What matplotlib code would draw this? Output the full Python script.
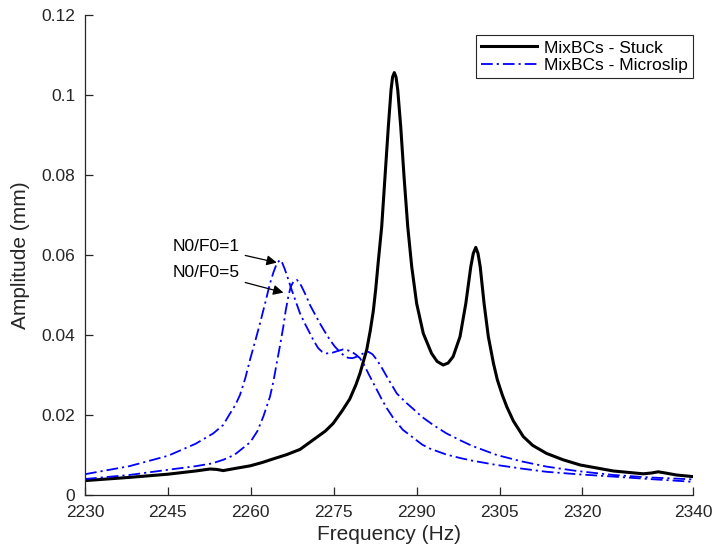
import matplotlib
matplotlib.use("Agg")
import matplotlib.pyplot as plt

plt.rcParams['font.family'] = ['Liberation Sans', 'DejaVu Sans']

# Data
freq_stuck = [2230, 2238, 2245, 2250, 2252.6, 2253.8, 2255.0, 2257, 2259.9, 2262, 2264, 2266.5,
              2268.9, 2271.5, 2273.5, 2274.9, 2276.5, 2277.9, 2279.0, 2279.75, 2280.97, 2281.6,
              2282.16, 2282.6, 2283.07, 2283.68, 2284.28, 2284.88, 2285.37, 2285.65, 2285.96,
              2286.27, 2286.58, 2287.12, 2287.72, 2288.39, 2289.11, 2290.0, 2291.2, 2292.7,
              2293.7, 2294.8, 2295.7, 2296.6, 2297.85, 2298.9, 2299.8, 2300.25, 2300.7, 2301.1,
              2301.5, 2302.2, 2302.97, 2303.9, 2304.6, 2305.5, 2306.3, 2307.5, 2309.3, 2311.0,
              2313.5, 2316.5, 2319.6, 2325.6, 2331.0, 2332.5, 2333.7, 2335.0, 2337.0, 2340]
amp_stuck = [0.0036, 0.0044, 0.0052, 0.0060, 0.0065, 0.0064, 0.0061, 0.0066, 0.0073, 0.0081, 0.0090, 0.0101,
             0.0114, 0.0140, 0.0160, 0.0179, 0.0210, 0.0240, 0.0275, 0.0304, 0.0363, 0.0410,
             0.0460, 0.0515, 0.0585, 0.0671, 0.0796, 0.0921, 0.1013, 0.1045, 0.1056,
             0.1045, 0.1013, 0.0921, 0.0796, 0.0671, 0.0571, 0.0479, 0.0404, 0.0354,
             0.0334, 0.0325, 0.0330, 0.0346, 0.0396, 0.0479, 0.0571, 0.0604, 0.0619, 0.0604,
             0.0571, 0.0479, 0.0396, 0.0329, 0.0288, 0.0250, 0.0221, 0.0185, 0.0146, 0.0124,
             0.0104, 0.0088, 0.0075, 0.0060, 0.0053, 0.0055, 0.0058, 0.0055, 0.0050, 0.0046]

freq_ms1 = [2230, 2238, 2245, 2250, 2253.2, 2255, 2256.2, 2257.2, 2258.04, 2259.0, 2259.85, 2260.8,
            2261.66, 2262.6, 2263.47, 2264.1, 2264.68, 2265.28, 2265.7, 2266.19, 2266.8, 2267.39,
            2268.9, 2269.8, 2270.7, 2271.4, 2272.2, 2272.9, 2273.7, 2274.6, 2275.5, 2276.7,
            2277.5, 2278.25, 2279.0, 2279.75, 2280.5, 2281.26, 2282.0, 2282.8, 2283.7, 2284.6,
            2285.8, 2287.5, 2289.4, 2291.0, 2292.4, 2295.4, 2298.0, 2300.0, 2304.5, 2309.0,
            2313.5, 2319.0, 2325.6, 2332.0, 2340]
amp_ms1 = [0.0052, 0.0072, 0.0098, 0.0128, 0.0154, 0.0175, 0.0203, 0.0225, 0.0250, 0.0292, 0.0338, 0.0385,
           0.0429, 0.0480, 0.0529, 0.0557, 0.0578, 0.0588, 0.0580, 0.0563, 0.0538, 0.0513,
           0.0454, 0.0428, 0.0404, 0.0385, 0.0367, 0.0358, 0.0354, 0.0355, 0.0359, 0.0364,
           0.0362, 0.0358, 0.0351, 0.0342, 0.0325, 0.0304, 0.0284, 0.0263, 0.0239, 0.0217,
           0.0192, 0.0163, 0.0143, 0.0126, 0.0116, 0.0101, 0.0092, 0.0086, 0.0075, 0.0066,
           0.0058, 0.0052, 0.0046, 0.0040, 0.0033]

freq_ms5 = [2230, 2238, 2245, 2250, 2253, 2255, 2257, 2259.9, 2261.2, 2262.26, 2263.47, 2264.1,
            2264.68, 2265.3, 2265.88, 2266.3, 2266.78, 2267.2, 2267.69, 2268.3, 2268.7, 2269.2,
            2270.0, 2270.7, 2271.6, 2272.5, 2273.4, 2274.3, 2275.2, 2276.1, 2276.9, 2277.6,
            2278.4, 2279.2, 2280.2, 2281.26, 2282.0, 2282.8, 2283.7, 2284.6, 2285.5, 2286.4,
            2288.0, 2289.4, 2291.0, 2293.0, 2295.4, 2298.0, 2300.0, 2304.5, 2309.0, 2313.5,
            2319.0, 2325.6, 2332.0, 2340]
amp_ms5 = [0.0040, 0.0050, 0.0063, 0.0072, 0.0079, 0.0088, 0.0100, 0.0132, 0.0160, 0.0196, 0.0246, 0.0285,
           0.0329, 0.0375, 0.0421, 0.0460, 0.0496, 0.0520, 0.0533, 0.0538, 0.0533, 0.0521,
           0.0498, 0.0475, 0.0452, 0.0429, 0.0408, 0.0388, 0.0371, 0.0358, 0.0348, 0.0343,
           0.0342, 0.0346, 0.0353, 0.0358, 0.0352, 0.0338, 0.0318, 0.0296, 0.0275, 0.0254,
           0.0232, 0.0215, 0.0195, 0.0175, 0.0154, 0.0136, 0.0123, 0.0100, 0.0084, 0.0071,
           0.0060, 0.0050, 0.0044, 0.0039]

x_ticks = [2230, 2245, 2260, 2275, 2290, 2305, 2320, 2340]
y_ticks = [0, 0.02, 0.04, 0.06, 0.08, 0.1, 0.12]
y_tick_labels = ['0', '0.02', '0.04', '0.06', '0.08', '0.1', '0.12']

annotations = [("N0/F0=1", 2264.7, 0.0581, 0.0621),
               ("N0/F0=5", 2265.9, 0.0506, 0.0557)]

fig = plt.figure(figsize=(7.13, 5.58), dpi=100)
ax = fig.add_axes([85/713, 63/558, 608/713, 480/558])

dashdot = (0, (6.5, 2.2, 1.2, 2.2))
ax.plot(freq_stuck, amp_stuck, color='black', lw=2.2, label='MixBCs - Stuck',
        solid_joinstyle='round')
ax.plot(freq_ms1, amp_ms1, color='#0000ff', lw=1.3, linestyle=dashdot,
        label='MixBCs - Microslip')
ax.plot(freq_ms5, amp_ms5, color='#0000ff', lw=1.3, linestyle=dashdot)

for txt, xa, ya, yt in annotations:
    ax.annotate(txt, xy=(xa, ya), xytext=(2258.0, yt), ha='right', va='center',
                fontsize=12.5, color='black',
                arrowprops=dict(arrowstyle='-|>', color='black', lw=0.9,
                                mutation_scale=15, shrinkA=2, shrinkB=0))

ax.set_xlim(2230, 2340)
ax.set_ylim(0, 0.12)
ax.set_xticks(x_ticks)
ax.set_xticklabels([str(t) for t in x_ticks])
ax.set_yticks(y_ticks)
ax.set_yticklabels(y_tick_labels)

ax.spines['top'].set_visible(False)
ax.spines['right'].set_visible(False)
for s in ('left', 'bottom'):
    ax.spines[s].set_color('#262626')
    ax.spines[s].set_linewidth(0.9)
ax.tick_params(direction='in', length=5.5, width=0.9, colors='#262626',
               labelsize=12.5, pad=7)

ax.set_xlabel('Frequency (Hz)', fontsize=15, color='#262626', labelpad=4)
ax.set_ylabel('Amplitude (mm)', fontsize=15, color='#262626', labelpad=8)

leg = ax.legend(loc='upper right', bbox_to_anchor=(1.0, 0.958), fontsize=12.5,
                frameon=True, fancybox=False, edgecolor='#262626', framealpha=1,
                handlelength=3.2, handletextpad=0.4, borderpad=0.3, labelspacing=0.15,
                borderaxespad=0)
leg.get_frame().set_linewidth(0.8)

fig.savefig('out.png', dpi=100)
